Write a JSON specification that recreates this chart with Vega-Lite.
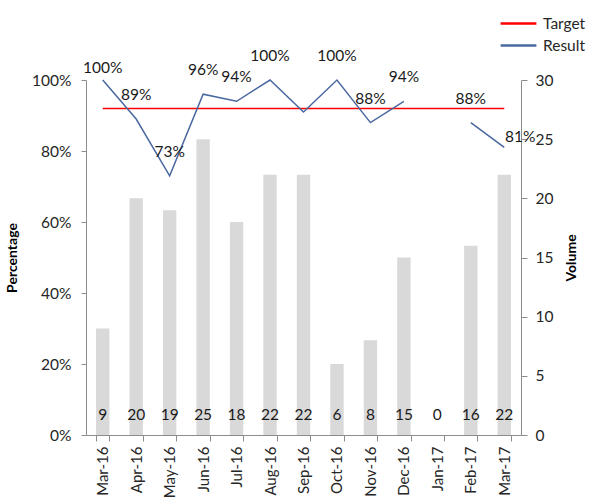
{
  "$schema": "https://vega.github.io/schema/vega-lite/v6.json",
  "width": 435,
  "height": 355,
  "autosize": {"type": "none"},
  "padding": {"left": 86, "top": 80, "right": 70, "bottom": 64},
  "background": "white",
  "config": {
    "view": {"stroke": null},
    "font": "Lato",
    "axis": {
      "grid": false,
      "domainColor": "#8c8c8c",
      "tickColor": "#8c8c8c",
      "labelColor": "#262626",
      "labelFontSize": 15.5,
      "labelFont": "Lato",
      "titleFont": "Lato",
      "titleFontSize": 14,
      "titleFontWeight": "bold",
      "titleColor": "#000000"
    },
    "text": {"font": "Lato", "fontSize": 15.5, "color": "#1a1a1a"}
  },
  "data": {
    "values": [
      {"month": "Mar-16", "volume": 9, "result": 1.00, "target": 0.92, "label": "100%"},
      {"month": "Apr-16", "volume": 20, "result": 0.89, "target": 0.92, "label": "89%"},
      {"month": "May-16", "volume": 19, "result": 0.73, "target": 0.92, "label": "73%"},
      {"month": "Jun-16", "volume": 25, "result": 0.96, "target": 0.92, "label": "96%"},
      {"month": "Jul-16", "volume": 18, "result": 0.94, "target": 0.92, "label": "94%"},
      {"month": "Aug-16", "volume": 22, "result": 1.00, "target": 0.92, "label": "100%"},
      {"month": "Sep-16", "volume": 22, "result": 0.91, "target": 0.92, "label": null},
      {"month": "Oct-16", "volume": 6, "result": 1.00, "target": 0.92, "label": "100%"},
      {"month": "Nov-16", "volume": 8, "result": 0.88, "target": 0.92, "label": "88%"},
      {"month": "Dec-16", "volume": 15, "result": 0.94, "target": 0.92, "label": "94%"},
      {"month": "Jan-17", "volume": 0, "result": null, "target": 0.92, "label": null},
      {"month": "Feb-17", "volume": 16, "result": 0.88, "target": 0.92, "label": "88%"},
      {"month": "Mar-17", "volume": 22, "result": 0.81, "target": 0.92, "label": "81%"}
    ]
  },
  "encoding": {
    "x": {
      "field": "month",
      "type": "ordinal",
      "sort": null,
      "scale": {"paddingInner": 0.6, "paddingOuter": 0.3},
      "axis": {"title": null, "labelAngle": 270, "tickBand": "extent", "tickSize": 6, "labelPadding": 5, "labelFontSize": 15}
    }
  },
  "layer": [
    {
      "mark": {"type": "bar", "color": "#d9d9d9"},
      "encoding": {
        "y": {
          "field": "volume",
          "type": "quantitative",
          "scale": {"domain": [0, 30]},
          "axis": {"orient": "right", "title": "Volume", "titleAngle": 270, "titleBaseline": "top", "values": [0, 5, 10, 15, 20, 25, 30], "tickSize": 6, "labelPadding": 8, "titlePadding": 12}
        }
      }
    },
    {
      "mark": {"type": "text", "dy": -20},
      "encoding": {
        "y": {"datum": 0, "type": "quantitative", "scale": {"domain": [0, 30]}, "axis": null},
        "text": {"field": "volume", "type": "quantitative"}
      }
    },
    {
      "mark": {"type": "line", "strokeWidth": 1.5},
      "encoding": {
        "y": {"field": "target", "type": "quantitative", "scale": {"domain": [0, 1]}, "axis": null},
        "color": {"datum": "Target"}
      }
    },
    {
      "mark": {"type": "line", "strokeWidth": 1.5, "invalid": "break-paths-show-domains"},
      "encoding": {
        "y": {
          "field": "result",
          "type": "quantitative",
          "scale": {"domain": [0, 1]},
          "axis": {"orient": "left", "title": "Percentage", "format": ".0%", "values": [0, 0.2, 0.4, 0.6, 0.8, 1], "tickSize": 5, "labelPadding": 10, "titlePadding": 12}
        },
        "color": {
          "datum": "Result",
          "scale": {"domain": ["Target", "Result"], "range": ["#ff0000", "#4a68a0"]},
          "legend": {
            "title": null,
            "orient": "none",
            "legendX": 420,
            "legendY": -69,
            "symbolType": "M-1.6,0H1.6",
            "symbolStrokeWidth": 2.5,
            "symbolSize": 500,
            "labelOffset": 12,
            "labelFontSize": 15.5,
            "labelFont": "Lato",
            "labelColor": "#262626",
            "rowPadding": 1
          }
        }
      }
    },
    {
      "transform": [{"filter": "datum.label != null && datum.month != 'Mar-16' && datum.month != 'Mar-17'"}],
      "mark": {"type": "text", "dy": -24},
      "encoding": {
        "y": {"field": "result", "type": "quantitative", "scale": {"domain": [0, 1]}, "axis": null},
        "text": {"field": "label"}
      }
    },
    {
      "transform": [{"filter": "datum.month == 'Mar-16'"}],
      "mark": {"type": "text", "dy": -12},
      "encoding": {
        "y": {"field": "result", "type": "quantitative", "scale": {"domain": [0, 1]}, "axis": null},
        "text": {"field": "label"}
      }
    },
    {
      "transform": [{"filter": "datum.month == 'Mar-17'"}],
      "mark": {"type": "text", "dx": 16, "dy": -10},
      "encoding": {
        "y": {"field": "result", "type": "quantitative", "scale": {"domain": [0, 1]}, "axis": null},
        "text": {"field": "label"}
      }
    }
  ],
  "resolve": {"scale": {"y": "independent"}}
}
